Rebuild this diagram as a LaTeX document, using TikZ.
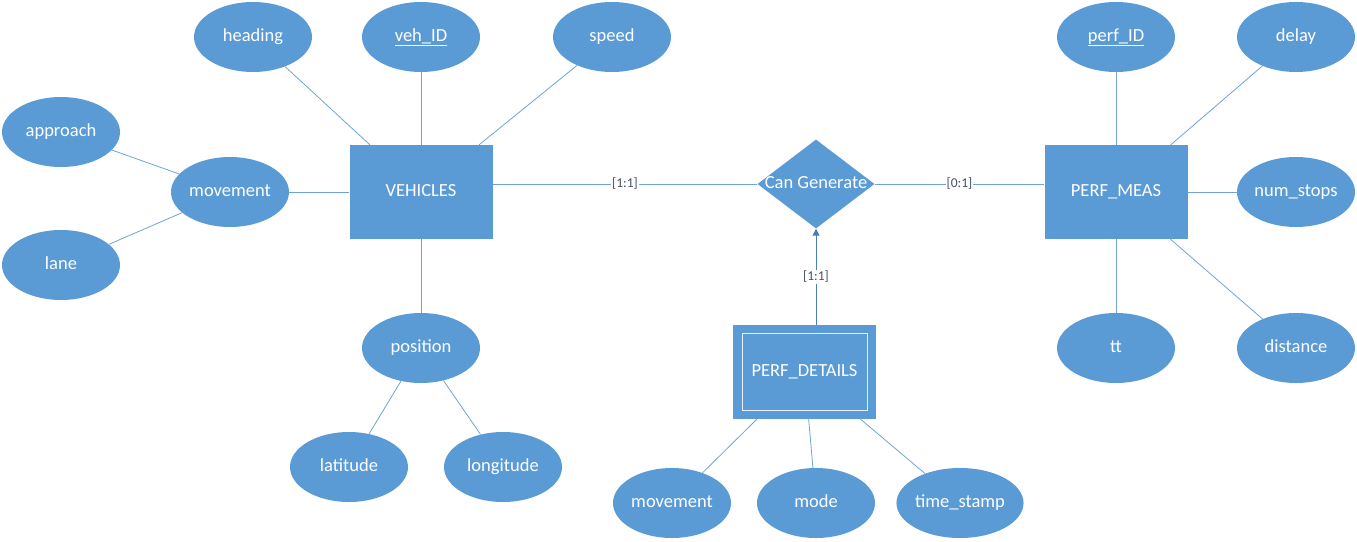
\documentclass[tikz,border=0pt]{standalone}
\usepackage{fontspec}
\setmainfont{Carlito}
\usetikzlibrary{shapes.geometric,arrows.meta}
\definecolor{boxblue}{HTML}{5B9BD5}
\definecolor{linkblue}{HTML}{6FA3D8}
\definecolor{arrowblue}{HTML}{4A7EBB}
\definecolor{labelgray}{HTML}{44546A}
\tikzset{
  txt/.style={text=white, font=\fontsize{18.5}{20}\selectfont, text height=0.82em, text depth=0pt},
  attr/.style={txt, ellipse, fill=boxblue, minimum width=118pt, minimum height=70pt, inner sep=0pt},
  ent/.style={txt, rectangle, fill=boxblue, minimum width=143pt, minimum height=94pt, inner sep=0pt},
  rel/.style={diamond, fill=boxblue, minimum width=117pt, minimum height=89pt, inner sep=0pt},
  reltext/.style={txt, inner sep=0pt},
  link/.style={draw=linkblue, line width=0.8pt},
  card/.style={fill=white, text=labelgray, font=\fontsize{13.5}{14}\selectfont, inner sep=1pt},
  arr/.style={draw=arrowblue, line width=1pt, -{Triangle[length=7pt,width=7pt]}}
}
\begin{document}
\begin{tikzpicture}[x=1pt,y=-1pt]
\useasboundingbox (0,0) rectangle (1357,541);
% entities
\node[ent] (veh) at (421,192) {VEHICLES};
\node[ent] (pm) at (1116,192) {PERF\_MEAS};
\node[ent] (pd) at (804.5,372) {PERF\_DETAILS};
\node[draw=white!85!boxblue, line width=1pt, minimum width=125pt, minimum height=77pt, inner sep=0pt] (pdin) at (pd) {};
% relationship
\node[rel] (dia) at (816,184) {};
\node[reltext] (diatext) at (dia) {Can Generate};
% vehicle attributes
\node[attr] (heading) at (253,37) {heading};
\node[attr] (vehid) at (421,37) {\underline{veh\_ID}};
\node[attr] (speed) at (612,37) {speed};
\node[attr] (approach) at (61,132) {approach};
\node[attr] (movement) at (230,192) {movement};
\node[attr] (lane) at (61,265) {lane};
\node[attr] (position) at (421,348) {position};
\node[attr] (latitude) at (349,467) {latitude};
\node[attr] (longitude) at (503,467) {longitude};
% perf_meas attributes
\node[attr] (perfid) at (1116,37) {\underline{perf\_ID}};
\node[attr] (delay) at (1296,37) {delay};
\node[attr] (numstops) at (1296,192) {num\_stops};
\node[attr] (tt) at (1116,348) {tt};
\node[attr] (distance) at (1296,348) {distance};
% perf_details attributes
\node[attr] (movtwo) at (672,503) {movement};
\node[attr] (mode) at (816,503) {mode};
\node[attr] (tstamp) at (960,503) {time\_stamp};
% attribute links
\draw[link] (veh) -- (heading);
\draw[link] (veh) -- (vehid);
\draw[link] (veh) -- (speed);
\draw[link] (veh) -- (movement);
\draw[link] (movement) -- (approach);
\draw[link] (movement) -- (lane);
\draw[link] (veh) -- (position);
\draw[link] (position) -- (latitude);
\draw[link] (position) -- (longitude);
\draw[link] (pm) -- (perfid);
\draw[link] (pm) -- (delay);
\draw[link] (pm) -- (numstops);
\draw[link] (pm) -- (tt);
\draw[link] (pm) -- (distance);
\draw[link] (pd) -- (movtwo);
\draw[link] (pd) -- (mode);
\draw[link] (pd) -- (tstamp);
% relationship links
\draw[link] (dia.west) -- node[card] {[1:1]} (dia.west -| veh.east);
\draw[link] (dia.east) -- node[card] {[0:1]} (dia.east -| pm.west);
\draw[arr] (dia.south |- pd.north) -- node[card] {[1:1]} (dia.south);
\end{tikzpicture}
\end{document}
